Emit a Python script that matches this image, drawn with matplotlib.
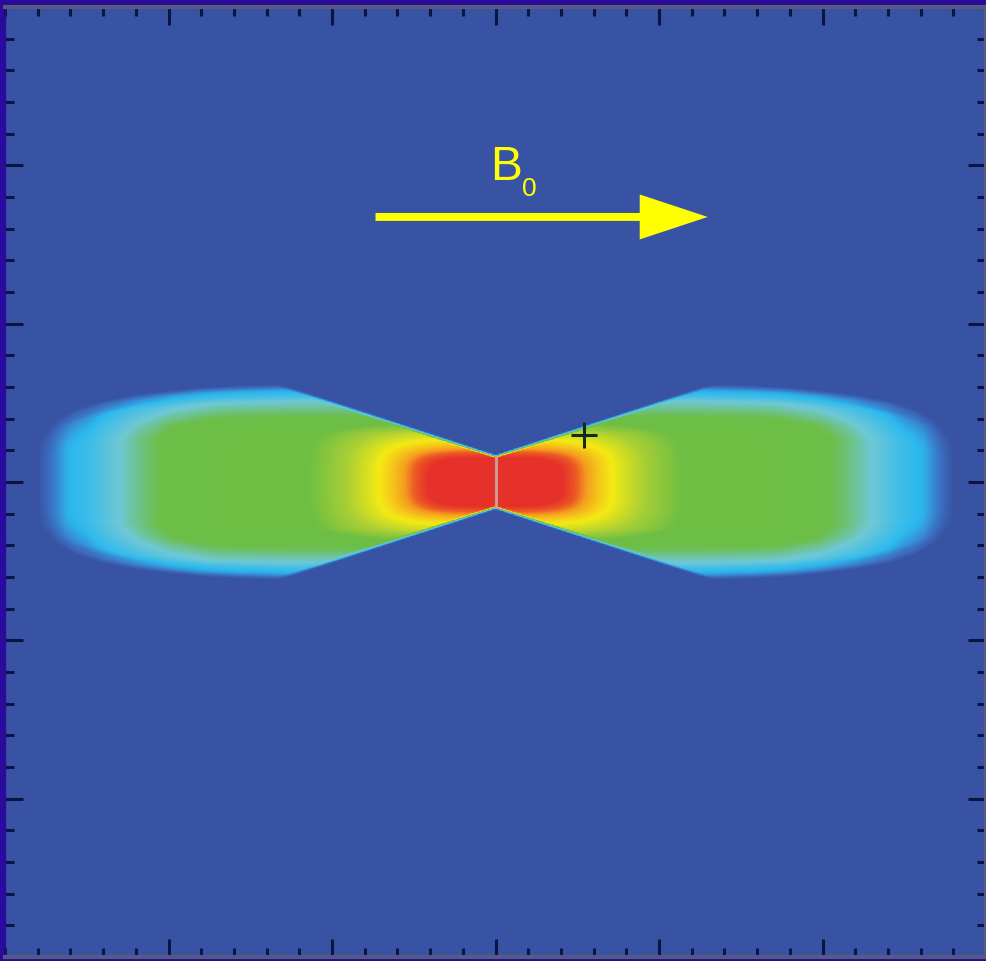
import numpy as np
import matplotlib.pyplot as plt
from matplotlib.colors import LinearSegmentedColormap
from matplotlib.ticker import MultipleLocator

# colour scale of the normalised field amplitude
level_stops = [0.0, 0.07, 0.15, 0.30, 0.42, 0.50, 0.58, 0.68, 0.78, 0.88, 1.0]
level_colors = ["#3953a4", "#3b78c8", "#2db9ee", "#6fc8d6", "#6cbe48", "#6cbe44",
                "#a8cf35", "#f4ea14", "#f6a81e", "#ee6324", "#e6302a"]

# lobe strength along B0 (|x|)
lobe_x = [0.0, 8.5, 9.9, 10.8, 11.5, 12.5, 13.1, 13.6, 14.0]
lobe_s = [1.0, 1.0, 0.9, 0.75, 0.6, 0.36, 0.28, 0.12, 0.0]

# lobe half-height h(|x|) and cross-field profile against |y| / h
env_x = [0.0, 6.3, 8.0, 9.0, 10.0, 11.0, 12.0, 12.8, 13.4, 13.8, 14.2]
env_h = [3.0, 3.0, 2.95, 2.9, 2.8, 2.68, 2.5, 2.25, 1.9, 1.5, 1.0]
cross_r = [0.0, 0.5, 0.64, 0.75, 0.85, 0.92, 0.97, 1.03]
cross_t = [1.0, 1.0, 0.9, 0.75, 0.6, 0.35, 0.25, 0.0]

# hot core around the source, against a rounded-box distance
core_ax = 2.4
core_ay = 0.9
core_d = [0.0, 0.85, 1.0, 1.15, 1.35, 1.6, 1.9, 2.4]
core_c = [0.5, 0.5, 0.42, 0.3, 0.22, 0.15, 0.08, 0.0]

# resonance cone: half-width = cone_w0 + cone_slope * |x|
cone_w0 = 0.8
cone_slope = 0.34
cone_soft = 0.1

probe_x = 2.7
probe_y = 1.49

# B0 arrow (tail, tip)
arrow_x = [-3.67, 6.49]
arrow_y = 8.37

n = 600
half = 15.0
centres = np.linspace(-half, half, n, endpoint=False) + half / n
X, Y = np.meshgrid(centres, centres)
ax_abs = np.abs(X)
ay_abs = np.abs(Y)

h = np.interp(ax_abs, env_x, env_h)
lobe = 0.5 * np.interp(ax_abs, lobe_x, lobe_s) * np.interp(ay_abs / h, cross_r, cross_t)
d = ((ax_abs / core_ax) ** 4 + (ay_abs / core_ay) ** 4) ** 0.25
core = np.interp(d, core_d, core_c)
inside = np.clip((cone_w0 + cone_slope * ax_abs - ay_abs) / cone_soft + 0.5, 0, 1)
field = (lobe + core) * inside

cmap = LinearSegmentedColormap.from_list("wave", list(zip(level_stops, level_colors)))

fig = plt.figure(figsize=(9.86, 9.61), dpi=100)
fig.patch.set_facecolor("#2a0a9a")
ax = fig.add_axes([5 / 986, 4 / 961, 981 / 986, 950 / 961])

ax.imshow(field, extent=(-half, half, -half, half), origin="lower", cmap=cmap,
          vmin=0, vmax=1, interpolation="bilinear", interpolation_stage="data",
          aspect="auto")

# source line at the centre
ax.plot([0, 0], [-0.82, 0.82], color="#c9a296", lw=2, solid_capstyle="butt")
ax.plot(probe_x, probe_y, marker="+", ms=19, mew=2.2, color="#112a22")

ax.arrow(arrow_x[0], arrow_y, arrow_x[1] - arrow_x[0], 0, width=0.25,
         head_width=1.42, head_length=2.08, length_includes_head=True,
         fc="#ffff00", ec="none")
ax.text(-0.17, 9.54, "B", color="#ffff00", fontsize=34.5,
        family=["Liberation Sans", "DejaVu Sans"], ha="left", va="baseline")
ax.text(0.8, 9.03, "0", color="#ffff00", fontsize=19,
        family=["Liberation Sans", "DejaVu Sans"], ha="left", va="baseline")

ax.set_xlim(-half, half)
ax.set_ylim(-half, half)
ax.set_xticks([-10, -5, 0, 5, 10])
ax.set_yticks([-10, -5, 0, 5, 10])
ax.xaxis.set_minor_locator(MultipleLocator(1))
ax.yaxis.set_minor_locator(MultipleLocator(1))
ax.tick_params(which="both", direction="in", top=True, right=True,
               labelbottom=False, labelleft=False, color="#0b1445", width=2.2)
ax.tick_params(which="major", length=13)
ax.tick_params(which="minor", length=6.5)

for side in ("top", "bottom", "right"):
    ax.spines[side].set_color("#545a82")
    ax.spines[side].set_linewidth(3)
ax.spines["left"].set_color("#2a0a9a")
ax.spines["left"].set_linewidth(1)

fig.savefig("out.png", dpi=100, facecolor=fig.get_facecolor())
